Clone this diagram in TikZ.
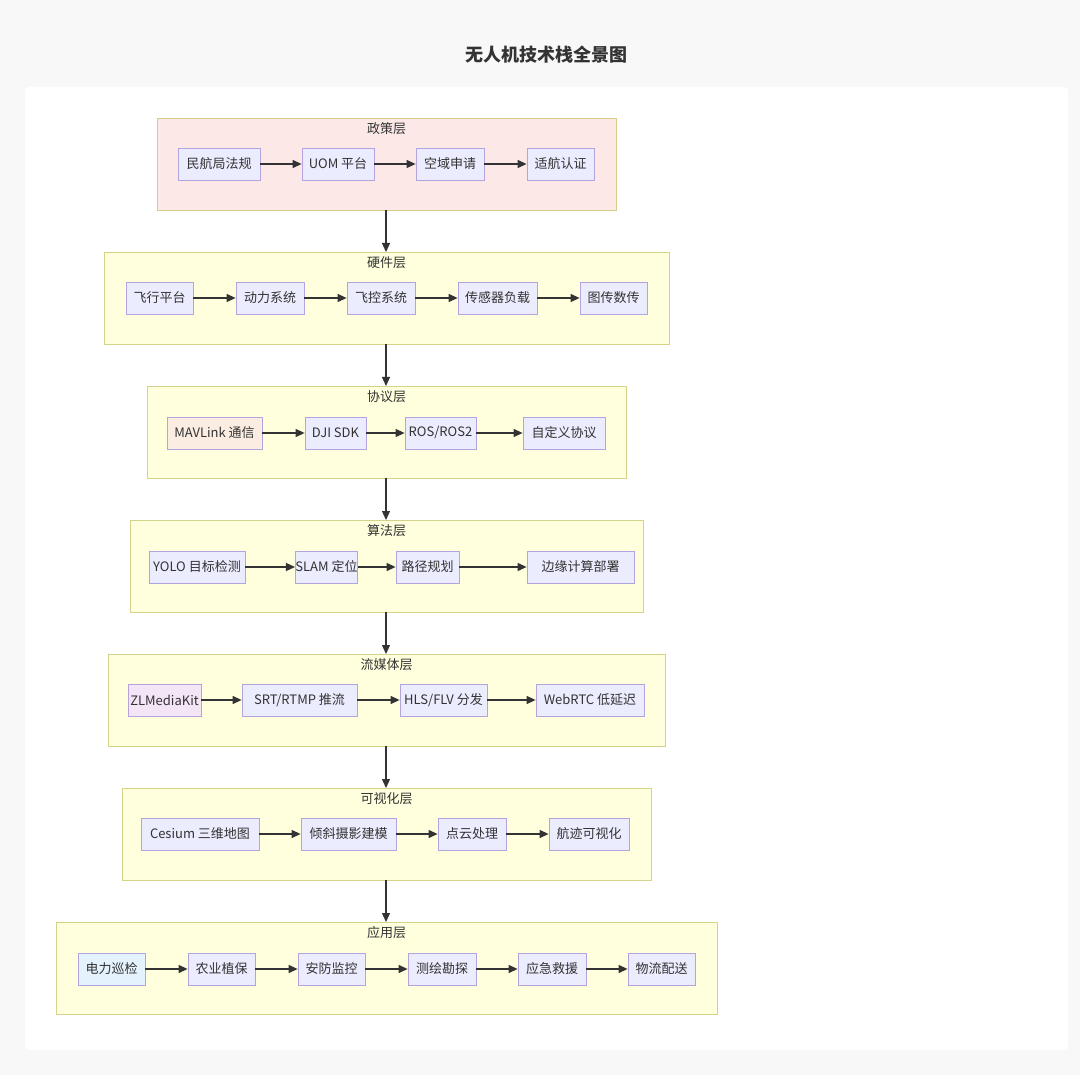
\documentclass[tikz,border=0pt]{standalone}
\usepackage{fontspec}
\setmainfont{Noto Sans CJK SC}
\usetikzlibrary{arrows.meta}
\definecolor{pagebg}{HTML}{F8F8F8}
\definecolor{laybg}{HTML}{FFFFDE}
\definecolor{laybd}{HTML}{D3D38A}
\definecolor{polbg}{HTML}{FDE8E8}
\definecolor{polbd}{HTML}{D8CC8A}
\definecolor{ndbg}{HTML}{ECECFF}
\definecolor{ndbd}{HTML}{B3A4E0}
\definecolor{peach}{HTML}{FCEDE3}
\definecolor{pinkl}{HTML}{F3E5F5}
\definecolor{bluel}{HTML}{E3F2FD}
\definecolor{ink}{HTML}{333333}
\tikzset{
 lay/.style={draw=laybd,fill=laybg,line width=0.8pt},
 nd/.style={draw=ndbd,fill=ndbg,line width=0.8pt,minimum height=32pt,inner sep=0pt,font=\fontsize{13pt}{13pt}\selectfont,text=ink},
 ttl/.style={font=\fontsize{13pt}{13pt}\selectfont,text=ink},
 ar/.style={draw=ink,line width=1.2pt,-{Triangle[length=9pt,width=8pt]}}
}
\newcommand{\nbox}[6][]{\node[nd,#1,minimum width=#4pt-#3pt] (#2) at ({(#3+#4)/2},#5) {#6};}
\begin{document}
\begin{tikzpicture}[x=1pt,y=-1pt]
\useasboundingbox (0,0) rectangle (1080,1075);
\fill[pagebg] (0,0) rectangle (1080,1075);
\fill[white,rounded corners=4pt] (25,87) rectangle (1068,1050);
\node[font=\fontsize{18pt}{18pt}\selectfont\bfseries,text=ink] (title) at (546,55) {无人机技术栈全景图};
% layers
\draw[lay,draw=polbd,fill=polbg] (157,118) rectangle (616,210);
\node[ttl] (L1) at (386.5,129) {政策层};
\draw[lay] (104,252) rectangle (669,344);
\node[ttl] (L2) at (386.5,263) {硬件层};
\draw[lay] (147,386) rectangle (626,478);
\node[ttl] (L3) at (386.5,397) {协议层};
\draw[lay] (130,520) rectangle (643,612);
\node[ttl] (L4) at (386.5,531) {算法层};
\draw[lay] (108,654) rectangle (665,746);
\node[ttl] (L5) at (386.5,665) {流媒体层};
\draw[lay] (122,788) rectangle (651,880);
\node[ttl] (L6) at (386.5,799) {可视化层};
\draw[lay] (56,922) rectangle (717,1014);
\node[ttl] (L7) at (386.5,933) {应用层};
\coordinate (b1) at (386,210); \coordinate (t2) at (386,252);
\coordinate (b2) at (386,344); \coordinate (t3) at (386,386);
\coordinate (b3) at (386,478); \coordinate (t4) at (386,520);
\coordinate (b4) at (386,612); \coordinate (t5) at (386,654);
\coordinate (b5) at (386,746); \coordinate (t6) at (386,788);
\coordinate (b6) at (386,880); \coordinate (t7) at (386,922);
\foreach \a/\b in {b1/t2,b2/t3,b3/t4,b4/t5,b5/t6,b6/t7} \draw[ar] (\a) -- (\b);
% nodes
\nbox{a1}{178}{260}{164}{民航局法规}
\nbox{a2}{302}{374}{164}{UOM 平台}
\nbox{a3}{416}{484}{164}{空域申请}
\nbox{a4}{527}{594}{164}{适航认证}
\nbox{h1}{126}{193}{298}{飞行平台}
\nbox{h2}{236}{304}{298}{动力系统}
\nbox{h3}{347}{415}{298}{飞控系统}
\nbox{h4}{458}{537}{298}{传感器负载}
\nbox{h5}{580}{647}{298}{图传数传}
\nbox[fill=peach]{p1}{167}{262}{433}{MAVLink 通信}
\nbox{p2}{305}{366}{433}{DJI SDK}
\nbox{p3}{405}{476}{433}{ROS/ROS2}
\nbox{p4}{523}{605}{433}{自定义协议}
\nbox{g1}{149}{245}{567}{YOLO 目标检测}
\nbox{g2}{297}{356}{567}{SLAM 定位}
\nbox{g3}{396}{459}{567}{路径规划}
\nbox{g4}{527}{634}{567}{边缘计算部署}
\nbox[fill=pinkl]{s1}{128}{201}{700}{ZLMediaKit}
\nbox{s2}{242}{357}{700}{SRT/RTMP 推流}
\nbox{s3}{400}{487}{700}{HLS/FLV 分发}
\nbox{s4}{536}{644}{700}{WebRTC 低延迟}
\nbox{v1}{141}{259}{834}{Cesium 三维地图}
\nbox{v2}{301}{396}{834}{倾斜摄影建模}
\nbox{v3}{438}{506}{834}{点云处理}
\nbox{v4}{549}{629}{834}{航迹可视化}
\nbox[fill=bluel]{x1}{78}{145}{969}{电力巡检}
\nbox{x2}{188}{255}{969}{农业植保}
\nbox{x3}{298}{365}{969}{安防监控}
\nbox{x4}{408}{476}{969}{测绘勘探}
\nbox{x5}{518}{586}{969}{应急救援}
\nbox{x6}{628}{695}{969}{物流配送}
\foreach \a/\b in {a1/a2,a2/a3,a3/a4,h1/h2,h2/h3,h3/h4,h4/h5,p1/p2,p2/p3,p3/p4,g1/g2,g2/g3,g3/g4,s1/s2,s2/s3,s3/s4,v1/v2,v2/v3,v3/v4,x1/x2,x2/x3,x3/x4,x4/x5,x5/x6}
  \draw[ar] (\a) -- (\b);
\end{tikzpicture}
\end{document}
